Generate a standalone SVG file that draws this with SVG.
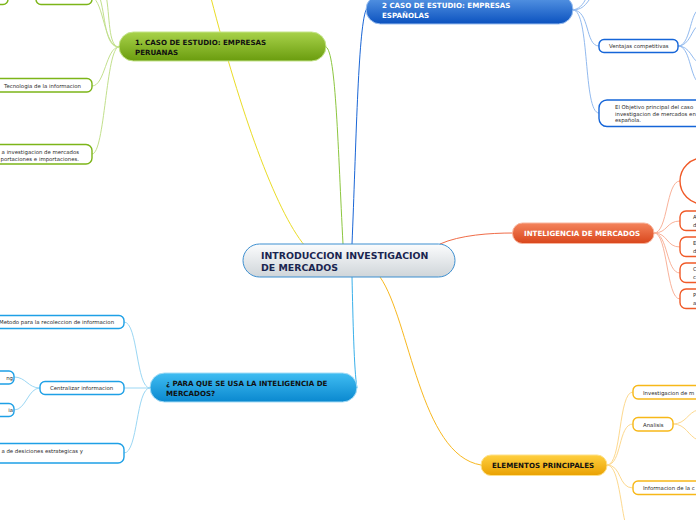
<svg xmlns="http://www.w3.org/2000/svg" width="696" height="520" viewBox="0 0 696 520">
<defs>
<linearGradient id="gC" x1="0" y1="0" x2="0" y2="1"><stop offset="0" stop-color="#fbfcfd"/><stop offset="1" stop-color="#cfd5d9"/></linearGradient>
<linearGradient id="gG" x1="0" y1="0" x2="0" y2="1"><stop offset="0" stop-color="#a8d24a"/><stop offset="1" stop-color="#6a9c0e"/></linearGradient>
<linearGradient id="gB" x1="0" y1="0" x2="0" y2="1"><stop offset="0" stop-color="#5c9ae6"/><stop offset="1" stop-color="#0b52bf"/></linearGradient>
<linearGradient id="gR" x1="0" y1="0" x2="0" y2="1"><stop offset="0" stop-color="#f4845c"/><stop offset="1" stop-color="#d9461c"/></linearGradient>
<linearGradient id="gL" x1="0" y1="0" x2="0" y2="1"><stop offset="0" stop-color="#40bdf2"/><stop offset="1" stop-color="#0a88cf"/></linearGradient>
<linearGradient id="gY" x1="0" y1="0" x2="0" y2="1"><stop offset="0" stop-color="#ffd040"/><stop offset="1" stop-color="#e9a102"/></linearGradient>
</defs>
<style>
.con path{fill:none;stroke-width:1}
.sg{stroke:#c2e08c}.sb{stroke:#92baef}.sr{stroke:#f9b29a}.sl{stroke:#9bd7f4}.sy{stroke:#fdd98f}
.sub rect{fill:#fff;stroke-width:1.4}
.g rect{stroke:#7cb518}.b rect{stroke:#1565d8}.r rect{stroke:#f05a28}.l rect{stroke:#1ea0e6}.y rect{stroke:#f7b818}
.t{font-family:"DejaVu Sans",Verdana,sans-serif;font-size:5.4px;fill:#2b2b2b}
.m{font-family:"DejaVu Sans",Verdana,sans-serif;font-size:7.1px;font-weight:bold}
</style>
<g id="connectors" class="con">
<path d="M326,47 C336,52 338,150 343,244" stroke="#8cc63f" stroke-width="1.3"/>
<path d="M305,246 C275,210 240,110 211,-2" stroke="#eadc26" stroke-width="1.3"/>
<path d="M352,244 C356,150 358,30 366,10" stroke="#1a66d6" stroke-width="1.3"/>
<path d="M440,244 C460,235 490,233 513,233" stroke="#f06c48" stroke-width="1.3"/>
<path d="M352,277 C353,320 354,370 357,388" stroke="#3ab0ea" stroke-width="1.3"/>
<path d="M380,277 C410,320 420,455 481,465" stroke="#f8b820" stroke-width="1.3"/>
<path class="sg" d="M119,47 C106,47 105,86 92,86"/>
<path class="sg" d="M119,47 C106,47 105,154 92,154"/>
<path class="sg" d="M119,47 C104,47 106,15 99,-5"/>
<path class="sg" d="M119,47 C108,47 110,15 106,-5"/>
<path class="sg" d="M119,47 C104,47 104,2 92,-3"/>
<path class="sb" d="M573,10 C590,10 585,46 599,46"/>
<path class="sb" d="M573,10 C590,10 583,113 599,113"/>
<path class="sb" d="M573,10 C585,10 588,0 593,-5"/>
<path class="sb" d="M573,10 C582,8 584,2 588,-5"/>
<path class="sb" d="M678,46 C690,46 690,15 698,10"/>
<path class="sb" d="M678,46 C690,46 692,28 698,26"/>
<path class="sb" d="M678,46 C690,46 692,60 698,62"/>
<path class="sb" d="M678,46 C690,46 690,76 698,82"/>
<path class="sr" d="M654,233 C668,233 666,181 680,181"/>
<path class="sr" d="M654,233 C668,233 666,221 680,221"/>
<path class="sr" d="M654,233 C668,233 666,247 680,247"/>
<path class="sr" d="M654,233 C668,233 666,273 680,273"/>
<path class="sr" d="M654,233 C668,233 666,299 680,299"/>
<path class="sl" d="M150,388 C136,388 138,322 124,322"/>
<path class="sl" d="M150,388 L124,388"/>
<path class="sl" d="M150,388 C136,388 138,453 124,453"/>
<path class="sl" d="M40,388 C28,388 26,377 14,377"/>
<path class="sl" d="M40,388 C28,388 26,410 14,410"/>
<path class="sy" d="M607,465 C622,465 618,392 633,392"/>
<path class="sy" d="M607,465 C622,465 618,424 633,424"/>
<path class="sy" d="M607,465 C622,465 618,488 633,488"/>
<path class="sy" d="M607,465 C618,465 620,500 625,522"/>
<path class="sy" d="M673,424 C686,424 688,412 698,410"/>
<path class="sy" d="M673,424 C686,424 688,436 698,440"/>
</g>
<g id="central">
<rect x="243" y="244" width="212" height="33" rx="16.5" fill="url(#gC)" stroke="#3d8fd0" stroke-width="1"/>
<text x="261" y="259" font-family="DejaVu Sans,Verdana,sans-serif" font-size="9.4" font-weight="bold" fill="#1a2550">INTRODUCCION INVESTIGACION</text>
<text x="261" y="270.5" font-family="DejaVu Sans,Verdana,sans-serif" font-size="9.4" font-weight="bold" fill="#1a2550">DE MERCADOS</text>
</g>
<g id="n-peruanas">
<rect x="119" y="32" width="207" height="29" rx="14.5" fill="url(#gG)" stroke="#c4e48a" stroke-width="1"/>
<text class="m" x="135" y="45" fill="#111">1. CASO DE ESTUDIO: EMPRESAS</text>
<text class="m" x="135" y="54.5" fill="#111">PERUANAS</text>
</g>
<g id="n-espanolas">
<rect x="366" y="-5" width="207" height="29" rx="14.5" fill="url(#gB)" stroke="#9cc0f0" stroke-width="1"/>
<text class="m" x="382" y="8" fill="#fff">2 CASO DE ESTUDIO: EMPRESAS</text>
<text class="m" x="382" y="17.5" fill="#fff">ESPAÑOLAS</text>
</g>
<g id="n-inteligencia">
<rect x="512.5" y="223" width="141.5" height="20.5" rx="10" fill="url(#gR)" stroke="#f8b49c" stroke-width="1"/>
<text class="m" x="524" y="235.8" fill="#fff">INTELIGENCIA DE MERCADOS</text>
</g>
<g id="n-paraque">
<rect x="150" y="373" width="207" height="29" rx="14.5" fill="url(#gL)" stroke="#a6dcf6" stroke-width="1"/>
<text class="m" x="166" y="386" fill="#111">¿ PARA QUE SE USA LA INTELIGENCIA DE</text>
<text class="m" x="166" y="395.5" fill="#111">MERCADOS?</text>
</g>
<g id="n-elementos">
<rect x="481" y="455" width="126" height="20.5" rx="10" fill="url(#gY)" stroke="#fde08a" stroke-width="1"/>
<text class="m" x="492" y="467.8" fill="#111">ELEMENTOS PRINCIPALES</text>
</g>
<g id="g-sub1" class="sub g"><rect x="-40" y="-12" width="48" height="16.5" rx="5"/></g>
<g id="g-sub2" class="sub g"><rect x="36" y="-12" width="56" height="16.5" rx="5"/></g>
<g id="g-tec" class="sub g"><rect x="-20" y="78.5" width="112" height="13.5" rx="5"/><text class="t" x="4" y="88">Tecnologia de la informacion</text></g>
<g id="g-inv" class="sub g"><rect x="-40" y="144.5" width="132" height="19.5" rx="6"/><text class="t" x="79" y="154" text-anchor="end">a investigacion de mercados</text><text class="t" x="79" y="160.5" text-anchor="end">portaciones e importaciones.</text></g>
<g id="b-ventajas" class="sub b"><rect x="599" y="39.5" width="79" height="13" rx="5"/><text class="t" x="609" y="48">Ventajas competitivas</text></g>
<g id="b-objetivo" class="sub b"><rect x="599" y="100" width="120" height="26.5" rx="8"/><text class="t" x="615" y="109">El Objetivo principal del caso</text><text class="t" x="615" y="115.5">investigacion de mercados en</text><text class="t" x="615" y="122">española.</text></g>
<g id="r-big" class="sub r"><rect x="680" y="158" width="60" height="46" rx="23"/></g>
<g id="r-a" class="sub r"><rect x="680" y="211" width="50" height="19.5" rx="6"/><text class="t" x="693" y="219">A</text><text class="t" x="693" y="226.5">d</text></g>
<g id="r-e" class="sub r"><rect x="680" y="237" width="50" height="19.5" rx="6"/><text class="t" x="693" y="245">E</text><text class="t" x="693" y="252.5">d</text></g>
<g id="r-c" class="sub r"><rect x="680" y="263" width="50" height="19.5" rx="6"/><text class="t" x="693" y="271">C</text><text class="t" x="693" y="278.5">c</text></g>
<g id="r-p" class="sub r"><rect x="680" y="289" width="50" height="19.5" rx="6"/><text class="t" x="693" y="297">P</text><text class="t" x="693" y="304.5">a</text></g>
<g id="l-metodo" class="sub l"><rect x="-20" y="315.5" width="144" height="13" rx="5"/><text class="t" x="-1" y="324">Metodo para la recoleccion de informacion</text></g>
<g id="l-central" class="sub l"><rect x="40" y="381.5" width="84" height="13" rx="5"/><text class="t" x="50" y="390">Centralizar informacion</text></g>
<g id="l-g" class="sub l"><rect x="-40" y="371" width="54" height="13" rx="5"/><text class="t" x="13" y="380" text-anchor="end">ng</text></g>
<g id="l-ia" class="sub l"><rect x="-40" y="403.5" width="54" height="13" rx="5"/><text class="t" x="13" y="412" text-anchor="end">ia</text></g>
<g id="l-desic" class="sub l"><rect x="-40" y="443.5" width="164" height="19.5" rx="6"/><text class="t" x="83" y="453" text-anchor="end">a de desiciones estrategicas y</text></g>
<g id="y-inv" class="sub y"><rect x="633" y="385.5" width="90" height="13.5" rx="5"/><text class="t" x="643" y="394.5">Investigacion de m</text></g>
<g id="y-anal" class="sub y"><rect x="633" y="417.5" width="40" height="13.5" rx="5"/><text class="t" x="643" y="426.5">Analisis</text></g>
<g id="y-info" class="sub y"><rect x="633" y="481" width="90" height="13.5" rx="5"/><text class="t" x="643" y="490">Informacion de la c</text></g>
</svg>
